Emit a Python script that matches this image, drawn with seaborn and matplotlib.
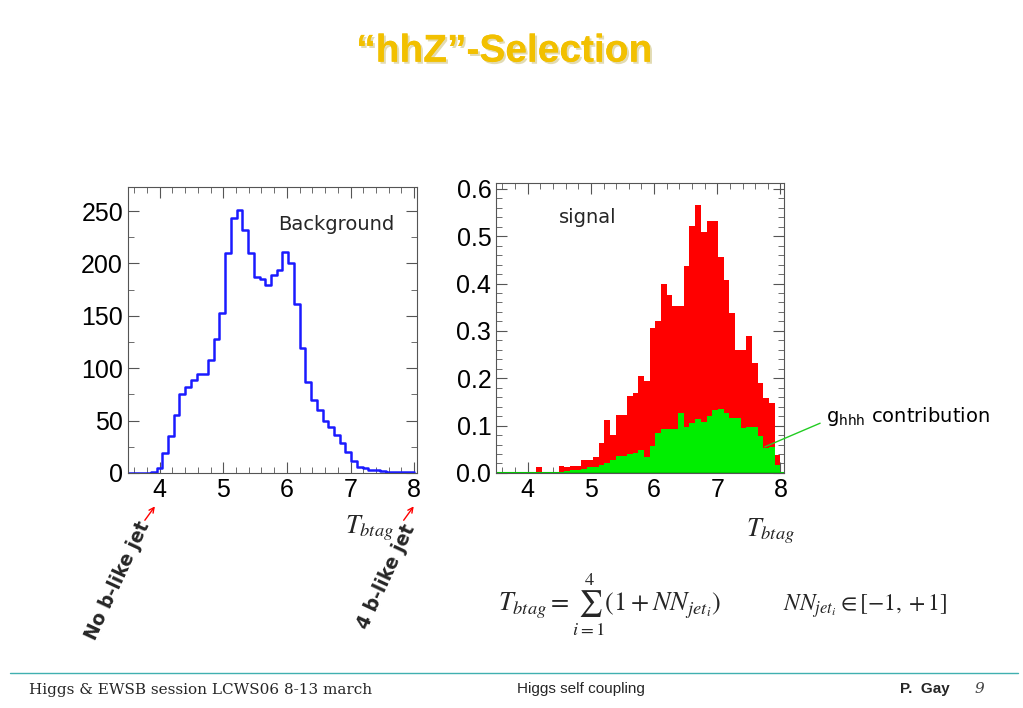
import numpy as np
import pandas as pd
import matplotlib
matplotlib.use('Agg')
import matplotlib.pyplot as plt
import matplotlib.patheffects as pe
import seaborn as sns

# bin layout: 50 bins on [3.5, 8]
edges = np.linspace(3.5, 8.0, 51)
centers = (edges[:-1] + edges[1:]) / 2

background = [0, 0, 0, 0, 1, 5, 19, 35, 55, 75, 82, 89, 94, 94, 108, 128, 153, 210, 243, 251,
              232, 210, 187, 185, 179, 189, 194, 211, 200, 161, 119, 87, 70, 60, 50, 44, 36, 29, 20, 11,
              6, 4.5, 3, 2.5, 2, 1, 1, 1, 0.5, 0.5]
signal_total = [0, 0, 0, 0, 0, 0, 0, 0.012, 0.002, 0.002, 0, 0.014, 0.012, 0.014, 0.014, 0.027, 0.027, 0.034, 0.063, 0.112,
                0.08, 0.123, 0.123, 0.163, 0.168, 0.204, 0.195, 0.307, 0.32, 0.399, 0.376, 0.353, 0.353, 0.436, 0.522, 0.566, 0.508, 0.532, 0.532, 0.457,
                0.408, 0.337, 0.26, 0.26, 0.29, 0.233, 0.19, 0.158, 0.148, 0.038]
signal_ghhh = [0, 0, 0, 0, 0, 0, 0, 0, 0, 0, 0, 0, 0.005, 0.006, 0.007, 0.009, 0.013, 0.013, 0.016, 0.021,
               0.028, 0.035, 0.035, 0.04, 0.043, 0.048, 0.034, 0.057, 0.085, 0.092, 0.092, 0.092, 0.127, 0.098, 0.106, 0.113, 0.108, 0.12, 0.133, 0.134,
               0.127, 0.117, 0.117, 0.094, 0.098, 0.098, 0.078, 0.052, 0.054, 0.016]

df = pd.DataFrame({'T': centers, 'bkg': background, 'sig': signal_total, 'ghhh': signal_ghhh})

sns.set_style('ticks')
plt.rcParams['font.family'] = ['Liberation Sans', 'DejaVu Sans']
fig = plt.figure(figsize=(10.23, 7.08), dpi=100)

# title with a soft shadow (path effect, single text)
fig.text(0.493, 0.927, '\u201chhZ\u201d-Selection', ha='center', va='center', fontsize=28,
         fontweight='bold', color='#f2c000',
         path_effects=[pe.withSimplePatchShadow(offset=(1.5, -1.5), shadow_rgbFace='#a08800', alpha=0.3),
                       pe.Normal()])

def style_axes(ax):
    ax.set_xlim(3.5, 8.05)
    ax.set_xticks([4, 5, 6, 7, 8])
    ax.set_xticks(np.arange(3.6, 8.01, 0.2), minor=True)
    ax.tick_params(axis='both', which='both', direction='in', top=True, right=True,
                   labelsize=18, labelcolor='black', color='#555555')
    ax.tick_params(which='major', length=8)
    ax.tick_params(which='minor', length=4)
    ax.set_xlabel('')
    ax.set_ylabel('')
    for s in ax.spines.values():
        s.set_color('#555555')
        s.set_linewidth(0.8)

hist_kw = dict(bins=50, binrange=(3.5, 8.0))

# left: background
ax1 = fig.add_axes([0.125, 0.332, 0.283, 0.404])
sns.histplot(data=df, x='T', weights='bkg', element='step', fill=False,
             color='#1a1aff', linewidth=1.8, ax=ax1, **hist_kw)
ax1.set_ylim(0, 273)
ax1.set_yticks([0, 50, 100, 150, 200, 250])
ax1.set_yticks(np.arange(0, 271, 25), minor=True)
style_axes(ax1)
ax1.text(0.52, 0.85, 'Background', transform=ax1.transAxes, fontsize=14, family='DejaVu Sans')
ax1.text(0.75, -0.21, r'$T_{btag}$', transform=ax1.transAxes, fontsize=19, math_fontfamily='stix')

# right: signal
ax2 = fig.add_axes([0.485, 0.332, 0.281, 0.41])
sns.histplot(data=df, x='T', weights='sig', element='bars', fill=True,
             color='#ff0000', alpha=1, linewidth=0, ax=ax2, **hist_kw)
sns.histplot(data=df, x='T', weights='ghhh', element='bars', fill=True,
             color='#00ee00', alpha=1, linewidth=0, ax=ax2, **hist_kw)
ax2.axhline(0, color='#00cc00', linewidth=1.5)
ax2.set_ylim(0, 0.613)
ax2.set_yticks([0, 0.1, 0.2, 0.3, 0.4, 0.5, 0.6])
ax2.set_yticks(np.arange(0, 0.61, 0.02), minor=True)
style_axes(ax2)
ax2.text(0.22, 0.86, 'signal', transform=ax2.transAxes, fontsize=14, family='DejaVu Sans')
ax2.text(0.87, -0.22, r'$T_{btag}$', transform=ax2.transAxes, fontsize=19, math_fontfamily='stix')
ax2.annotate(r'g$_{\rm hhh}$ contribution', xy=(7.75, 0.055), xytext=(8.72, 0.12),
             fontsize=14, color='black', annotation_clip=False, va='center', family='DejaVu Sans',
             arrowprops=dict(arrowstyle='-', color='#22cc22', linewidth=1, shrinkB=0, shrinkA=2,
                             relpos=(0, 0.3)))

# rotated jet labels with red arrows
fig.text(0.115, 0.18, 'No b-like jet', rotation=65, fontsize=13.5, fontweight='bold',
         ha='center', va='center', family='DejaVu Sans')
fig.text(0.378, 0.185, '4 b-like jet', rotation=65, fontsize=13.5, fontweight='bold',
         ha='center', va='center', family='DejaVu Sans')
fig.patches.append(matplotlib.patches.FancyArrowPatch((0.140, 0.262), (0.153, 0.288), transform=fig.transFigure,
                                                      arrowstyle='->', mutation_scale=9, color='red'))
fig.patches.append(matplotlib.patches.FancyArrowPatch((0.393, 0.262), (0.406, 0.288), transform=fig.transFigure,
                                                      arrowstyle='->', mutation_scale=9, color='red'))

# formula
fig.text(0.487, 0.137, r'$T_{btag}=\sum_{i=1}^{4}(1+NN_{jet_i})$', fontsize=19, math_fontfamily='stix')
fig.text(0.765, 0.137, r'$NN_{jet_i}\in[-1,+1]$', fontsize=17, math_fontfamily='stix')

# footer
fig.add_artist(matplotlib.lines.Line2D([0.01, 0.995], [0.049, 0.049], color='#40b0b0', linewidth=1))
fig.text(0.028, 0.025, 'Higgs & EWSB session LCWS06 8-13 march', fontsize=11, family='DejaVu Serif', va='center')
fig.text(0.505, 0.027, 'Higgs self coupling', fontsize=11, va='center')
fig.text(0.88, 0.027, 'P.  Gay', fontsize=11, fontweight='bold', va='center')
fig.text(0.953, 0.027, '9', fontsize=11, style='italic', family='DejaVu Serif', va='center', color='#444444')

fig.savefig('out.png', dpi=100)
